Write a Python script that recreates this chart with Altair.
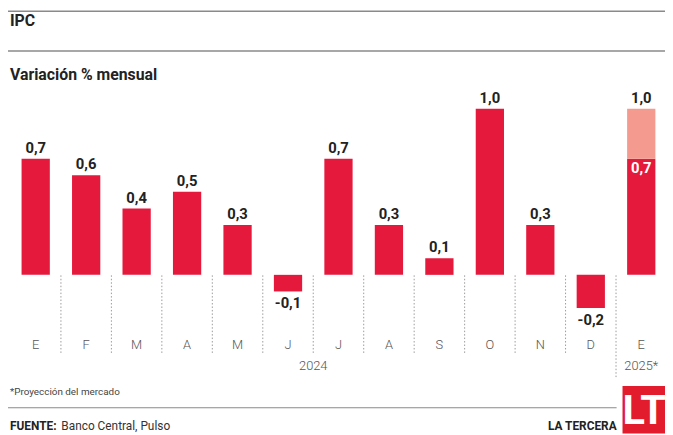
import altair as alt
import pandas as pd

# ---- data ----
keys = ["2024-01", "2024-02", "2024-03", "2024-04", "2024-05", "2024-06",
        "2024-07", "2024-08", "2024-09", "2024-10", "2024-11", "2024-12", "2025-01"]
months = ["E", "F", "M", "A", "M", "J", "J", "A", "S", "O", "N", "D", "E"]
values = [0.7, 0.6, 0.4, 0.5, 0.3, -0.1, 0.7, 0.3, 0.1, 1.0, 0.3, -0.2, 0.7]
projection = [None] * 12 + [1.0]
years = ["2024", "2025*"]
year_anchor = ["2024-07", "2025-01"]      # 2024 centred between the two J's

RED = "#E5193C"
PINK = "#F49A8F"
FONT = "Roboto"
DARK = "#222222"


def fmt(v):
    return f"{v:.1f}".replace(".", ",")


rows = []
for k, m, v, p in zip(keys, months, values, projection):
    top = p if p is not None else v
    rows.append(dict(key=k, month=m, value=v, proj=p,
                     top=top, top_label=fmt(top),
                     inner_label=fmt(v) if p is not None else None))
df = pd.DataFrame(rows)

xs = alt.Scale(domain=keys, range=[2.5, 666.5], paddingInner=0, paddingOuter=0)
ys = alt.Scale(domain=[0, 1], range=[267.5, 99.5], nice=False, zero=False)

base = alt.Chart(df)
X = alt.X("key:N", scale=xs, axis=None)

bars = base.mark_bar(color=RED, width=alt.RelativeBandSize(0.56)).encode(
    x=X, y=alt.Y("value:Q", scale=ys, axis=None), y2=alt.datum(0))

proj = base.transform_filter("datum.proj != null").mark_bar(
    color=PINK, width=alt.RelativeBandSize(0.56)).encode(
    x=X, y=alt.Y("proj:Q", scale=ys, axis=None), y2="value:Q")

top_lbl = base.transform_filter("datum.top > 0").mark_text(
    font=FONT, fontSize=15, fontWeight="bold", color=DARK, dy=-11, baseline="middle").encode(
    x=X, y=alt.Y("top:Q", scale=ys, axis=None), text="top_label:N")

neg_lbl = base.transform_filter("datum.top < 0").mark_text(
    font=FONT, fontSize=15, fontWeight="bold", color=DARK, dy=12, baseline="middle").encode(
    x=X, y=alt.Y("top:Q", scale=ys, axis=None), text="top_label:N")

inner_lbl = base.transform_filter("datum.inner_label != null").mark_text(
    font=FONT, fontSize=15, fontWeight="bold", color="white", dy=10, baseline="middle").encode(
    x=X, y=alt.Y("value:Q", scale=ys, axis=None), text="inner_label:N")

month_lbl = base.mark_text(font=FONT, fontSize=13, fontWeight=300, color="#555555",
                           baseline="middle").encode(
    x=X, y=alt.value(339), text="month:N")

sep_df = pd.DataFrame(dict(key=keys[1:]))
seps = alt.Chart(sep_df.iloc[:-1]).mark_rule(color="#9a9a9a", strokeDash=[1.5, 2], strokeWidth=1).encode(
    x=alt.X("key:N", scale=xs, axis=None, bandPosition=0),
    y=alt.value(268), y2=alt.value(347))
sep_last = alt.Chart(sep_df.iloc[-1:]).mark_rule(color="#9a9a9a", strokeDash=[1.5, 2], strokeWidth=1).encode(
    x=alt.X("key:N", scale=xs, axis=None, bandPosition=0),
    y=alt.value(268), y2=alt.value(372))

year_df = pd.DataFrame(dict(key=year_anchor, label=years))
year_2024 = alt.Chart(year_df.iloc[[0]]).mark_text(
    font=FONT, fontSize=13, fontWeight=300, color="#555555", baseline="middle").encode(
    x=alt.X("key:N", scale=xs, axis=None, bandPosition=0), y=alt.value(360), text="label:N")
year_2025 = alt.Chart(year_df.iloc[[1]]).mark_text(
    font=FONT, fontSize=13, fontWeight=300, color="#555555", baseline="middle").encode(
    x=alt.X("key:N", scale=xs, axis=None), y=alt.value(360), text="label:N")


def rule(x1, x2, y, color="#8a8a8a", w=1.5):
    return alt.Chart(pd.DataFrame({"a": [0]})).mark_rule(color=color, strokeWidth=w).encode(
        x=alt.value(x1), x2=alt.value(x2), y=alt.value(y))


def txt(s, x, y, size, weight="normal", color=DARK, align="left"):
    return alt.Chart(pd.DataFrame({"a": [0]})).mark_text(
        text=s, font=FONT, fontSize=size, fontWeight=weight, color=color,
        align=align, baseline="middle").encode(x=alt.value(x), y=alt.value(y))


decor = [
    rule(0, 665, 0.75),
    txt("IPC", 2, 11, 16, "bold"),
    rule(0, 665, 41),
    txt("Variación % mensual", 2, 65, 16, "bold"),
    txt("*Proyección del mercado", 2, 386, 10, color="#444444"),
    rule(0, 616, 402, w=1.2),
    txt("FUENTE:", 2, 421, 12, "bold"),
    txt("Banco Central, Pulso", 54, 421, 12, color="#333333"),
    txt("LA TERCERA", 616, 421, 12, "bold", align="right"),
    alt.Chart(pd.DataFrame({"a": [0]})).mark_rect(color="#E21B2D").encode(
        x=alt.value(622), x2=alt.value(666), y=alt.value(380), y2=alt.value(428)),
    txt("LT", 644, 405, 42, "bold", color="white", align="center"),
]

chart = alt.layer(seps, sep_last, bars, proj, top_lbl, neg_lbl, inner_lbl, month_lbl,
                  year_2024, year_2025, *decor).properties(
    width=665, height=427, autosize=alt.AutoSizeParams(type="none"), padding=0,
    background="white"
).configure_view(stroke=None)

chart.save("out.html", embed_options={"renderer": "svg", "actions": False})
